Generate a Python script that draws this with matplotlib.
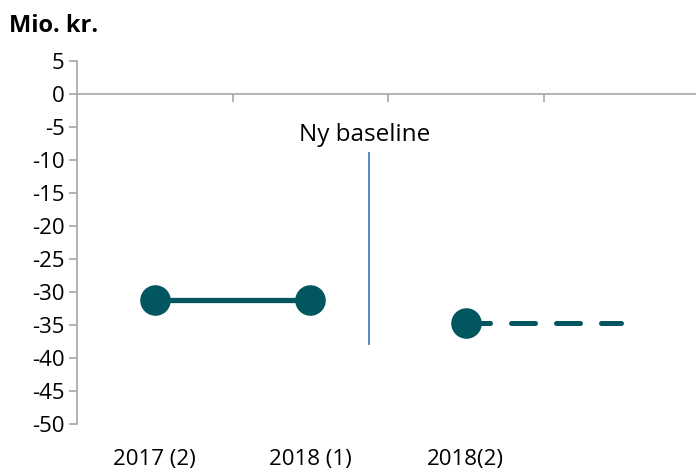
import numpy as np
import matplotlib
matplotlib.use("Agg")
import matplotlib.pyplot as plt
from matplotlib.ticker import MultipleLocator

# Periods on the x axis (last slot is left empty as room for the projection)
categories = ["2017 (2)", "2018 (1)", "2018(2)", ""]
old_baseline = [-31.2, -31.2]      # 2017 (2), 2018 (1)
new_baseline = [-34.7, -34.7]      # 2018(2) and onward
baseline_label = "Ny baseline"

TEAL = "#02565f"
GRID_GRAY = "#a6a6a6"

plt.rcParams["font.family"] = ["Open Sans", "DejaVu Sans"]
plt.rcParams["axes.unicode_minus"] = False

fig = plt.figure(figsize=(6.96, 4.70), dpi=100)
ax = fig.add_axes([0.1106, 0.0979, 0.8894, 0.7723])

x = np.arange(len(categories))

ax.plot(x[:2], old_baseline, color=TEAL, lw=3.8, marker="o", ms=21,
        solid_capstyle="round", zorder=3)
ax.plot(x[2:4], new_baseline, color=TEAL, lw=3.6, ls=(0, (4.8, 4.2)),
        dash_capstyle="round", zorder=3)
ax.plot(x[2], new_baseline[0], color=TEAL, marker="o", ms=21, zorder=4)

# Separator marking the baseline change
ax.plot([1.38, 1.38], [-8.9, -37.9], color="#4a7ec8", lw=1.3, zorder=2)
ax.text(1.35, -6.2, baseline_label, ha="center", va="center", fontsize=17.5)

ax.set_xlim(-0.5, 3.48)
ax.set_ylim(-50, 5)
ax.yaxis.set_major_locator(MultipleLocator(5))
ax.tick_params(axis="y", labelsize=16, length=6, color=GRID_GRAY, width=1.2, pad=3)

# Category boundaries as ticks hanging from the zero line
ax.set_xticks([0.5, 1.5, 2.5])
ax.set_xticklabels([])
ax.tick_params(axis="x", length=6, color=GRID_GRAY, width=1.2, direction="out")
ax.spines["bottom"].set_position(("data", 0))

for side in ("top", "right"):
    ax.spines[side].set_visible(False)
for side in ("left", "bottom"):
    ax.spines[side].set_color(GRID_GRAY)
    ax.spines[side].set_linewidth(1.2)

for xi, lab in zip(x, categories):
    ax.text(xi, -0.07, lab, transform=ax.get_xaxis_transform(),
            ha="center", va="top", fontsize=16)

fig.text(0.013, 0.945, "Mio. kr.", fontsize=17, fontweight="bold",
         ha="left", va="center")

fig.savefig("out.png", dpi=100)
